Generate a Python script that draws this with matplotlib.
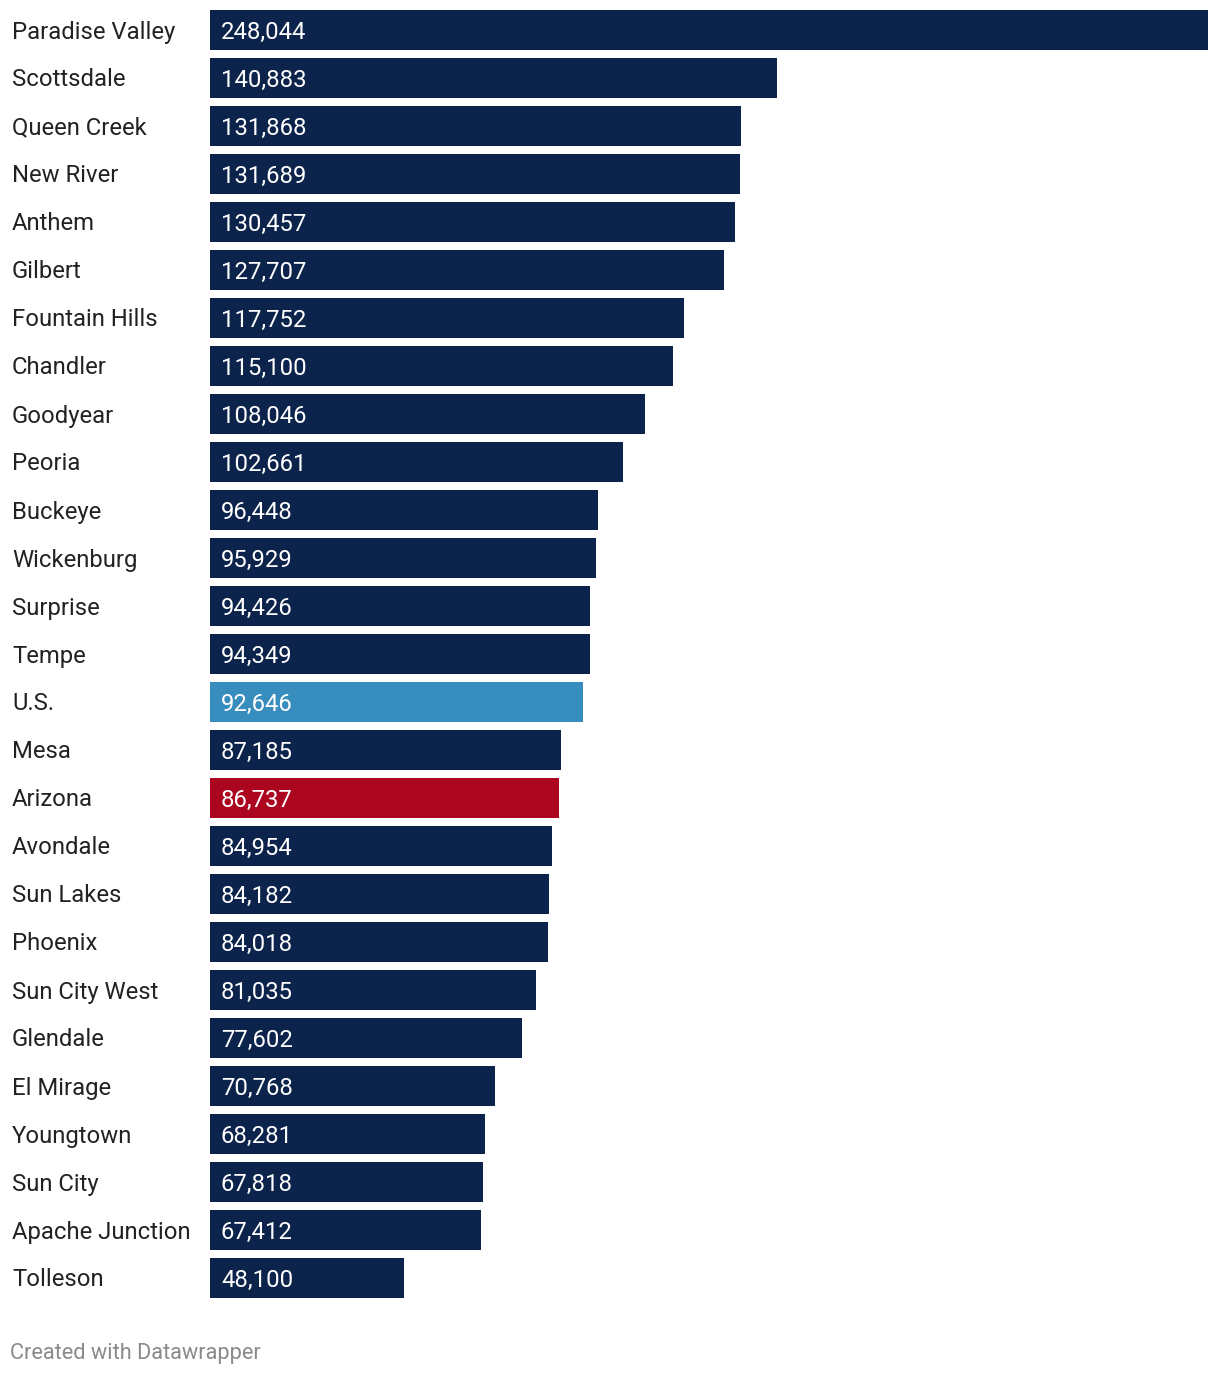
import matplotlib.pyplot as plt
import matplotlib.transforms as mtransforms

plt.rcParams['font.family'] = ['Roboto', 'DejaVu Sans']

cities = ["Paradise Valley", "Scottsdale", "Queen Creek", "New River", "Anthem",
          "Gilbert", "Fountain Hills", "Chandler", "Goodyear", "Peoria",
          "Buckeye", "Wickenburg", "Surprise", "Tempe", "U.S.", "Mesa",
          "Arizona", "Avondale", "Sun Lakes", "Phoenix", "Sun City West",
          "Glendale", "El Mirage", "Youngtown", "Sun City", "Apache Junction",
          "Tolleson"]
values = [248044, 140883, 131868, 131689, 130457, 127707, 117752, 115100,
          108046, 102661, 96448, 95929, 94426, 94349, 92646, 87185, 86737,
          84954, 84182, 84018, 81035, 77602, 70768, 68281, 67818, 67412, 48100]

navy = "#0c234b"
highlight = {"U.S.": "#378dbd", "Arizona": "#ab0520"}
colors = [highlight.get(c, navy) for c in cities]

W, H = 1220, 1374
fig = plt.figure(figsize=(W / 100, H / 100), dpi=100)

# axes spans bar area: x 210..1208 px, y 6..1302 px (48 px per row)
ax = fig.add_axes([210 / W, (H - 1302) / H, 998 / W, 1296 / H])
ypos = list(range(len(cities)))
ax.barh(ypos, values, height=40 / 48, color=colors)
ax.set_xlim(0, max(values))
ax.set_ylim(len(cities) - 0.5, -0.5)
ax.axis("off")

trans = mtransforms.blended_transform_factory(fig.transFigure, ax.transData)
dy = 2 / 48  # nudge text down a little
for i, (c, v) in enumerate(zip(cities, values)):
    ax.text(12 / W, i + dy, c, transform=trans, ha="left", va="center",
            fontsize=17.2, color="#222222")
    ax.text(221 / W, i + dy, f"{v:,}", transform=trans, ha="left", va="center",
            fontsize=17.2, color="white")

fig.text(10 / W, 1 - 1353 / H, "Created with Datawrapper", ha="left",
         va="center", fontsize=15.7, color="#8a8a8a")

fig.savefig("out.png", dpi=100)
